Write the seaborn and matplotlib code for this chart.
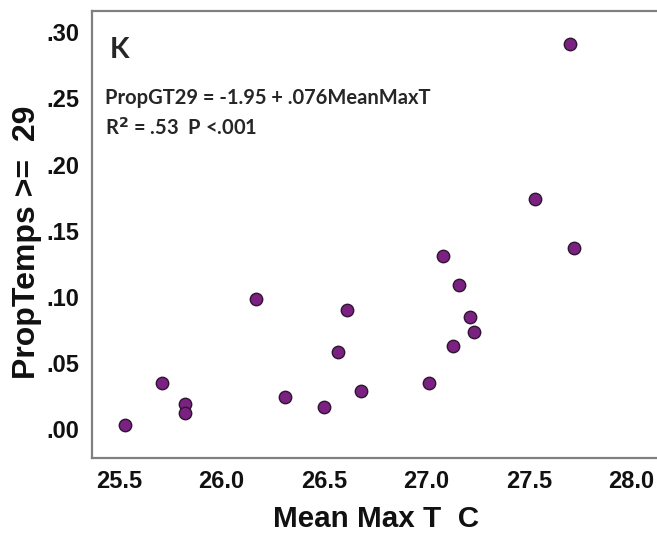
import matplotlib
matplotlib.use("Agg")
import matplotlib.pyplot as plt
import seaborn as sns
import pandas as pd

mean_max_t = [25.53, 25.71, 25.82, 25.82, 26.17, 26.31, 26.50, 26.57, 26.61, 26.68,
              27.01, 27.08, 27.13, 27.16, 27.21, 27.23, 27.53, 27.70, 27.72]
prop_gt29 = [0.003, 0.035, 0.019, 0.012, 0.098, 0.024, 0.017, 0.058, 0.090, 0.029,
             0.035, 0.131, 0.063, 0.109, 0.085, 0.073, 0.174, 0.291, 0.137]
x_ticks = [25.5, 26.0, 26.5, 27.0, 27.5, 28.0]
y_ticks = [0.00, 0.05, 0.10, 0.15, 0.20, 0.25, 0.30]
y_tick_labels = [".00", ".05", ".10", ".15", ".20", ".25", ".30"]

df = pd.DataFrame({"MeanMaxT": mean_max_t, "PropGT29": prop_gt29})

sns.set_style("white")
plt.rcParams["font.family"] = ["Liberation Sans", "DejaVu Sans"]

fig = plt.figure(figsize=(6.57, 5.33), dpi=100, facecolor="white")
# axes run past the right edge of the figure (cropped like the reference)
left_px, right_px, top_px, bot_px = 92, 720, 10.7, 458
ax_w = right_px - left_px
ax_h = bot_px - top_px
ax = fig.add_axes([left_px / 657, 1 - bot_px / 533, ax_w / 657, ax_h / 533])
ax.patch.set_visible(False)

sns.scatterplot(data=df, x="MeanMaxT", y="PropGT29", ax=ax, s=80,
                color="#7b2182", edgecolor="#2e1530", linewidth=1.0, zorder=3)

# 25.5 at x=119px, 205 px per degree
ax.set_xlim(25.5 - (119 - left_px) / 205, 25.5 + (right_px - 119) / 205)
ax.set_ylim(-0.0219, 0.3163)
ax.set_xticks(x_ticks)
ax.set_xticklabels([f"{t:.1f}" for t in x_ticks])
ax.set_yticks(y_ticks)
ax.set_yticklabels(y_tick_labels)

for side in ["left", "bottom", "top"]:
    ax.spines[side].set_visible(True)
    ax.spines[side].set_color("#808080")
    ax.spines[side].set_linewidth(1.6)
ax.spines["right"].set_visible(False)

ax.tick_params(axis="both", which="major", direction="out", length=6, width=1.2,
               color="#555555", labelsize=17, pad=3)
for lbl in ax.get_xticklabels() + ax.get_yticklabels():
    lbl.set_fontweight("bold")
    lbl.set_color("#111111")

ax.set_xlabel("Mean Max T  C", fontsize=21.3, fontweight="bold", color="#111111")
ax.xaxis.label.set_va("baseline")
ax.xaxis.set_label_coords((376 - left_px) / ax_w, (bot_px - 527) / ax_h)
ax.set_ylabel("PropTemps >=  29", fontsize=23, fontweight="bold", color="#111111")
ax.yaxis.set_label_coords((42 - left_px) / ax_w, (bot_px - 242) / ax_h)

ax.text((110 - left_px) / ax_w, 1 - (37 - top_px) / ax_h, "K", transform=ax.transAxes,
        fontsize=20.5, fontweight="bold", ha="left", va="top", family=["Lato", "DejaVu Sans"])
ax.text((105 - left_px) / ax_w, 1 - (98 - top_px) / ax_h, "PropGT29 = -1.95 + .076MeanMaxT",
        transform=ax.transAxes, fontsize=14.5, fontweight="bold", ha="left", va="center",
        family=["Lato", "DejaVu Sans"])
ax.text((105 - left_px) / ax_w, 1 - (128 - top_px) / ax_h, r"R$^{\mathbf{2}}$ = .53  P <.001",
        transform=ax.transAxes, fontsize=14.5, fontweight="bold", ha="left", va="center",
        family=["Lato", "DejaVu Sans"])

fig.savefig("out.png", dpi=100, facecolor="white")
